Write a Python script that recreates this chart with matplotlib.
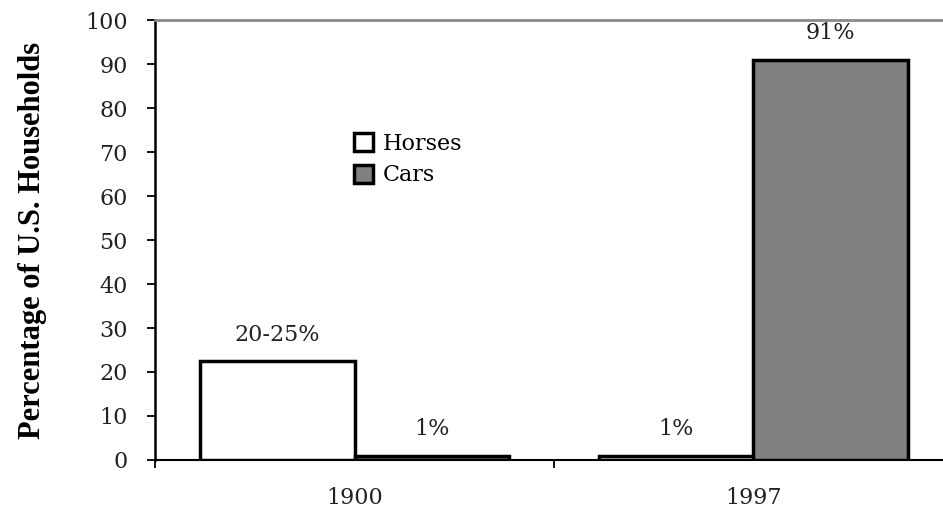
import matplotlib
matplotlib.use("Agg")
import matplotlib.pyplot as plt
import numpy as np
from matplotlib.patches import Patch

categories = ["1900", "1997"]
horses = [22.5, 1]
cars = [1, 91]
horses_labels = ["20-25%", "1%"]
cars_labels = ["1%", "91%"]
series_names = ["Horses", "Cars"]
yticks = list(range(0, 101, 10))

plt.rcParams['font.family'] = ['DejaVu Serif', 'Liberation Serif']

fig = plt.figure(figsize=(9.43, 5.14), dpi=100)
W, H = 943, 514
left_px, right_px, top_px, bot_px = 155, 953, 20, 460
ax = fig.add_axes([left_px / W, 1 - bot_px / H, (right_px - left_px) / W, (bot_px - top_px) / H])

x = np.arange(len(categories)) + 0.5
bw = 0.387
lw = 2.5
txt_col = '#222222'
fs = 16
b1 = ax.bar(x - bw / 2, horses, bw, color='white', edgecolor='black', linewidth=lw, zorder=3)
b2 = ax.bar(x + bw / 2, cars, bw, color='#808080', edgecolor='black', linewidth=lw, zorder=3)

for rect, lab in zip(b1, horses_labels):
    ax.annotate(lab, (rect.get_x() + rect.get_width() / 2, rect.get_height()),
                xytext=(0, 11), textcoords='offset points', ha='center', va='bottom',
                fontsize=fs, color=txt_col)
for rect, lab in zip(b2, cars_labels):
    ax.annotate(lab, (rect.get_x() + rect.get_width() / 2, rect.get_height()),
                xytext=(0, 11), textcoords='offset points', ha='center', va='bottom',
                fontsize=fs, color=txt_col, annotation_clip=False)

ax.set_xlim(0, 2)
ax.set_ylim(0, 100)
ax.set_yticks(yticks)
ax.tick_params(axis='y', direction='out', length=6, width=1.3, pad=13.5, labelsize=fs,
               labelcolor=txt_col)
ax.set_xticks([0, 1, 2])
ax.set_xticklabels([])
ax.tick_params(axis='x', which='major', direction='out', length=6, width=1.3)
ax.set_xticks(x, minor=True)
ax.set_xticklabels(categories, minor=True)
ax.tick_params(axis='x', which='minor', length=0, pad=19.5, labelsize=fs, labelcolor=txt_col)

ax.spines['left'].set_linewidth(1.8)
ax.spines['bottom'].set_linewidth(1.5)
ax.spines['top'].set_color('#8a8a8a')
ax.spines['top'].set_linewidth(2)
ax.spines['right'].set_visible(False)

ax.set_ylabel("Percentage of U.S. Households", fontsize=22, fontweight='bold',
              family=['Liberation Serif', 'DejaVu Serif'])
ax.yaxis.set_label_coords(-0.135, 0.5)

handles = [Patch(facecolor='white', edgecolor='black', linewidth=2.5),
           Patch(facecolor='#808080', edgecolor='black', linewidth=2.5)]
fig.legend(handles, series_names, loc='upper left', bbox_to_anchor=(354 / W, 1 - 133 / H),
           frameon=False, fontsize=16, handlelength=0.85, handleheight=0.85,
           handletextpad=0.45, labelspacing=0.42, borderpad=0, borderaxespad=0)

fig.savefig("out.png", dpi=100)
